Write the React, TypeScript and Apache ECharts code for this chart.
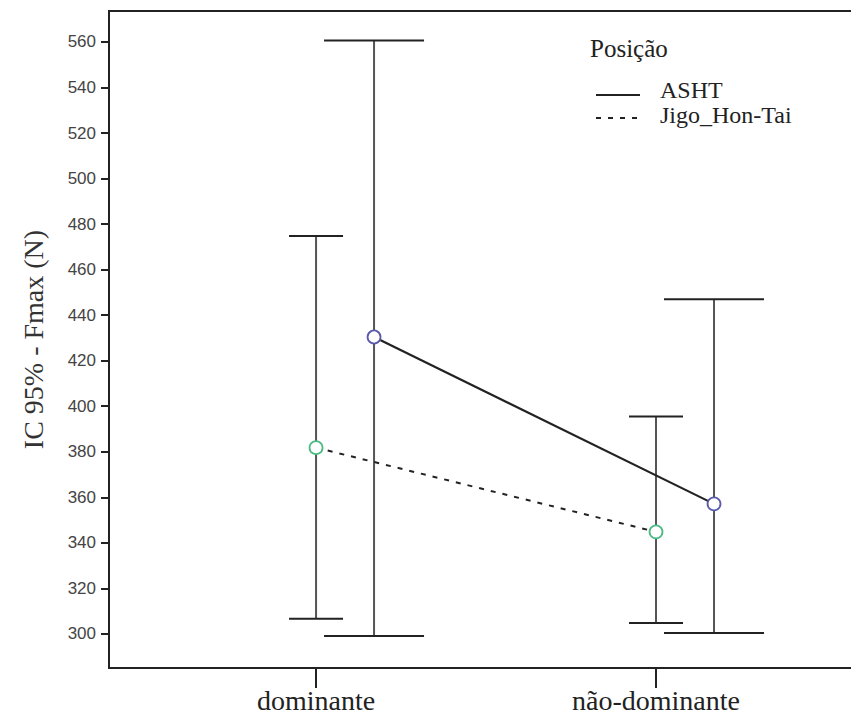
import React, { useEffect, useRef } from "react";
import * as echarts from "echarts";

const categories = ["dominante", "não-dominante"];
const yTicks = [300, 320, 340, 360, 380, 400, 420, 440, 460, 480, 500, 520, 540, 560];

const ashtMean = [430.4, 357.1];
const ashtLow = [299.1, 300.4];
const ashtHigh = [560.6, 447.0];

const jigoMean = [381.8, 344.8];
const jigoLow = [306.6, 304.8];
const jigoHigh = [474.8, 395.5];

const legendTitle = "Posição";
const seriesNames = ["ASHT", "Jigo_Hon-Tai"];

const ASHT_OFFSET = 58 / 340; // horizontal dodge of the ASHT group (axis units)
const JIGO_OFFSET = 0;

const SERIF = "Liberation Serif";
const SANS = "Liberation Sans";

function makeErrorRender(halfCap: number) {
  return (params: any, api: any) => {
    const x = api.value(0);
    const lo = api.value(1);
    const hi = api.value(2);
    const pLo = api.coord([x, lo]);
    const pHi = api.coord([x, hi]);
    return {
      type: "group",
      children: [
        {
          type: "line",
          shape: { x1: pLo[0], y1: pLo[1], x2: pHi[0], y2: pHi[1] },
          style: { stroke: "#555", lineWidth: 2 },
        },
        {
          type: "line",
          shape: { x1: pLo[0] - halfCap, y1: pLo[1], x2: pLo[0] + halfCap, y2: pLo[1] },
          style: { stroke: "#222", lineWidth: 2 },
        },
        {
          type: "line",
          shape: { x1: pHi[0] - halfCap, y1: pHi[1], x2: pHi[0] + halfCap, y2: pHi[1] },
          style: { stroke: "#222", lineWidth: 2 },
        },
      ],
    };
  };
}

export default function App() {
  const ref = useRef<HTMLDivElement>(null);
  useEffect(() => {
    document.body.style.margin = "0";
    const chart = echarts.init(ref.current!, null, { renderer: "svg" });
    const ashtBars = categories.map((_, i) => [i + ASHT_OFFSET, ashtLow[i], ashtHigh[i]]);
    const jigoBars = categories.map((_, i) => [i + JIGO_OFFSET, jigoLow[i], jigoHigh[i]]);
    const ashtLine = categories.map((_, i) => [i + ASHT_OFFSET, ashtMean[i]]);
    const jigoLine = categories.map((_, i) => [i + JIGO_OFFSET, jigoMean[i]]);

    const titleStyle = (size: number) => ({
      fontFamily: SERIF,
      fontSize: size,
      fontWeight: "normal" as const,
      color: "#222",
    });

    chart.setOption({
      animation: false,
      backgroundColor: "#fff",
      title: [
        { text: legendTitle, left: 590, top: 36, padding: 0, textStyle: titleStyle(25) },
        { text: seriesNames[0], left: 660, top: 78, padding: 0, textStyle: titleStyle(24) },
        { text: seriesNames[1], left: 660, top: 103, padding: 0, textStyle: titleStyle(24) },
      ],
      grid: {
        left: 109,
        top: 11,
        width: 785,
        height: 657,
        show: true,
        borderColor: "#222",
        borderWidth: 2,
        backgroundColor: "transparent",
        outerBoundsMode: "none",
      },
      xAxis: {
        type: "value",
        min: -0.609,
        max: 1.7,
        splitLine: { show: false },
        axisLine: { show: true, onZero: false, lineStyle: { color: "#222", width: 2 } },
        axisTick: { show: true, length: 20, customValues: [0, 1], lineStyle: { color: "#222", width: 2 } },
        axisLabel: {
          customValues: [0, 1],
          formatter: (v: number) => categories[Math.round(v)] ?? "",
          margin: 18,
          fontFamily: SERIF,
          fontSize: 28,
          color: "#222",
        },
      },
      yAxis: {
        type: "value",
        min: 285,
        max: 573.6,
        splitLine: { show: false },
        axisLine: { show: true, onZero: false, lineStyle: { color: "#222", width: 2 } },
        axisTick: { show: true, length: 8, customValues: yTicks, lineStyle: { color: "#222", width: 2 } },
        axisLabel: {
          customValues: yTicks,
          margin: 13,
          fontFamily: SANS,
          fontSize: 17,
          color: "#444",
        },
        name: "IC 95% - Fmax (N)",
        nameLocation: "middle",
        nameGap: 62,
        nameTextStyle: { fontFamily: SERIF, fontSize: 28, color: "#333" },
      },
      series: [
        {
          type: "custom",
          name: "ASHT-ci",
          renderItem: makeErrorRender(50),
          encode: { x: 0, y: [1, 2] },
          data: ashtBars,
          z: 2,
        },
        {
          type: "custom",
          name: "Jigo-ci",
          renderItem: makeErrorRender(27),
          encode: { x: 0, y: [1, 2] },
          data: jigoBars,
          z: 2,
        },
        {
          type: "line",
          name: seriesNames[0],
          data: ashtLine,
          symbol: "circle",
          symbolSize: 13,
          lineStyle: { color: "#222", width: 2.2 },
          itemStyle: { color: "#fff", borderColor: "#5a5aaa", borderWidth: 1.8 },
          z: 5,
        },
        {
          type: "line",
          name: seriesNames[1],
          data: jigoLine,
          symbol: "circle",
          symbolSize: 13,
          lineStyle: { color: "#222", width: 2, type: [5, 7] },
          itemStyle: { color: "#fff", borderColor: "#4dba82", borderWidth: 1.8 },
          z: 5,
        },
      ],
      graphic: [
        {
          type: "line",
          shape: { x1: 596, y1: 95, x2: 640, y2: 95 },
          style: { stroke: "#222", lineWidth: 2 },
        },
        {
          type: "line",
          shape: { x1: 596, y1: 118, x2: 640, y2: 118 },
          style: { stroke: "#222", lineWidth: 2, lineDash: [5, 7] },
        },
      ],
    });
    return () => chart.dispose();
  }, []);
  return <div ref={ref} style={{ width: 851, height: 720 }} />;
}
